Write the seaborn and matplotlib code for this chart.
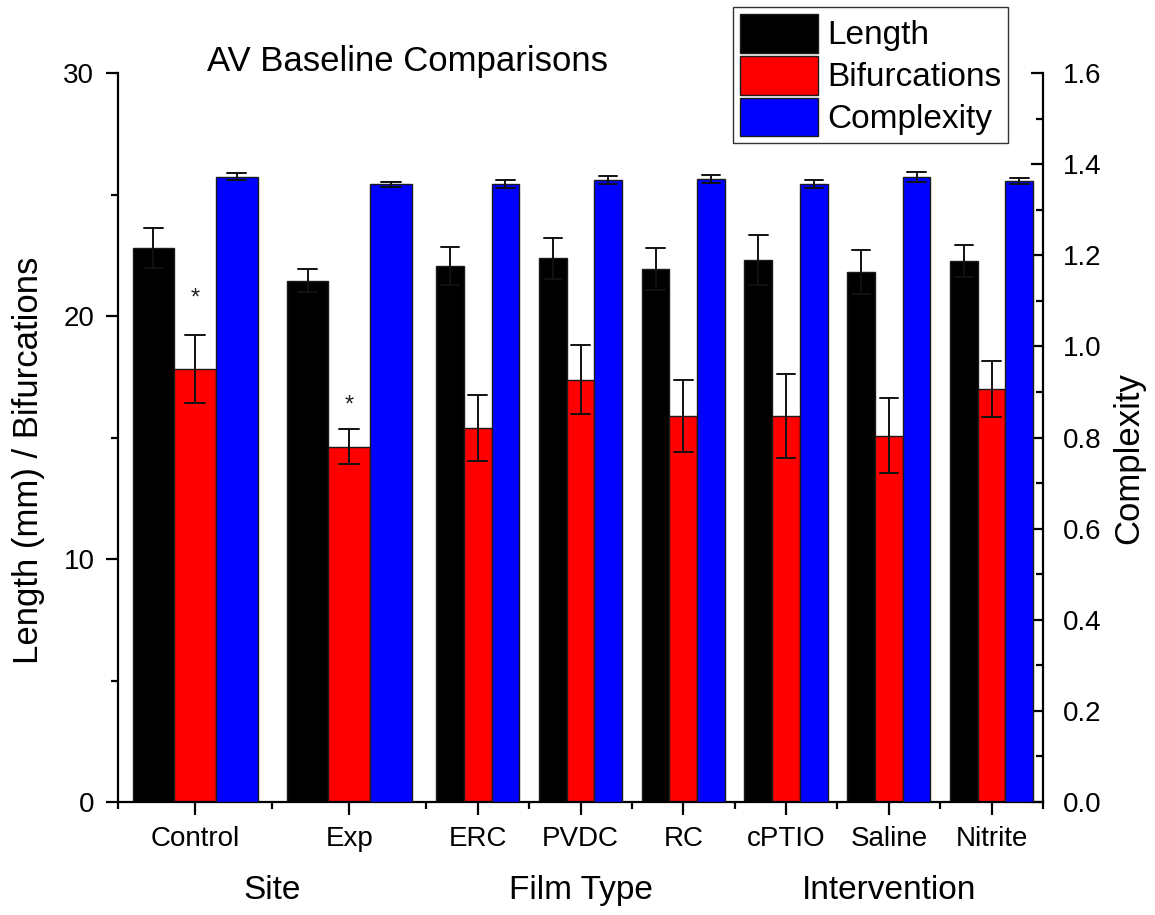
import numpy as np
import pandas as pd
import matplotlib
matplotlib.use("Agg")
import matplotlib.pyplot as plt
import seaborn as sns
from matplotlib.patches import Patch
from matplotlib.ticker import FixedLocator, MultipleLocator, FormatStrFormatter, NullFormatter

# ---------------- data ----------------
categories = ["Control", "Exp", "ERC", "PVDC", "RC", "cPTIO", "Saline", "Nitrite"]
category_group = ["Site", "Site", "Film Type", "Film Type", "Film Type",
                  "Intervention", "Intervention", "Intervention"]
group_names = ["Site", "Film Type", "Intervention"]
slot_widths = [1.5, 1.5, 1, 1, 1, 1, 1, 1]

length_mean = [22.80, 21.45, 22.05, 22.37, 21.95, 22.30, 21.80, 22.26]
length_err = [0.82, 0.48, 0.79, 0.84, 0.86, 1.03, 0.91, 0.65]
bif_mean = [17.83, 14.61, 15.39, 17.38, 15.89, 15.88, 15.07, 16.99]
bif_err = [1.40, 0.72, 1.36, 1.41, 1.48, 1.72, 1.55, 1.15]
cx_mean = [1.3725, 1.3558, 1.3565, 1.3653, 1.3680, 1.3558, 1.3718, 1.3623]
cx_err = [0.007, 0.005, 0.009, 0.009, 0.009, 0.009, 0.010, 0.007]

sig_categories = ["Control", "Exp"]
sig_heights = [20.7, 16.3]

series = ["Length", "Bifurcations", "Complexity"]
colors = {"Length": "#000000", "Bifurcations": "#FF0000", "Complexity": "#0000FF"}

# ---------------- layout of category slots ----------------
edges = np.concatenate([[0.0], np.cumsum(slot_widths)])
centers = (edges[:-1] + edges[1:]) / 2

rows = []
for i, cat in enumerate(categories):
    for s, m, e in (("Length", length_mean, length_err),
                    ("Bifurcations", bif_mean, bif_err),
                    ("Complexity", cx_mean, cx_err)):
        # two values mean-err / mean+err -> mean with full-range interval = +/- err
        for v in (m[i] - e[i], m[i] + e[i]):
            rows.append(dict(category=cat, group=category_group[i], x=centers[i],
                             series=s, value=v))
df = pd.DataFrame(rows)

sns.set_style("ticks")
plt.rcParams["font.family"] = ["Liberation Sans", "DejaVu Sans"]
plt.rcParams["axes.edgecolor"] = "black"
plt.rcParams["xtick.color"] = "black"
plt.rcParams["ytick.color"] = "black"
plt.rcParams["text.color"] = "black"
plt.rcParams["axes.labelcolor"] = "black"

W, H = 1155, 915
fig = plt.figure(figsize=(W / 100, H / 100), dpi=100)
ax = fig.add_axes([118 / W, 1 - 802 / H, 925 / W, 729 / H])
ax2 = ax.twinx()

for target, subset in ((ax, df[df.series != "Complexity"]),
                       (ax2, df[df.series == "Complexity"])):
    for wide, cap in ((True, 0.38), (False, 0.54)):
        part = subset[(subset.group == "Site") == wide]
        sns.barplot(data=part, x="x", y="value", hue="series", hue_order=series,
                    palette=colors, native_scale=True, width=0.81, dodge=True,
                    saturation=1, estimator="mean", errorbar=("pi", 100), capsize=cap,
                    err_kws={"color": "#111111", "linewidth": 1.4},
                    edgecolor="#1a1a1a", linewidth=1.0, legend=False, ax=target)

# significance stars
for cat, h in zip(sig_categories, sig_heights):
    i = categories.index(cat)
    ax.text(centers[i], h, "*", ha="center", va="center", fontsize=17, color="#222222")

# ---------------- axes ----------------
ax.set_xlim(edges[0], edges[-1])
ax2.set_xlim(edges[0], edges[-1])
ax.set_ylim(0, 30)
ax2.set_ylim(0, 1.6)

ax.xaxis.set_major_locator(FixedLocator(centers))
ax.set_xticklabels(categories)
ax.xaxis.set_minor_locator(FixedLocator(edges))
ax.xaxis.set_minor_formatter(NullFormatter())
ax.yaxis.set_major_locator(MultipleLocator(10))
ax.yaxis.set_minor_locator(MultipleLocator(5))
ax2.yaxis.set_major_locator(MultipleLocator(0.2))
ax2.yaxis.set_minor_locator(MultipleLocator(0.1))
ax2.yaxis.set_major_formatter(FormatStrFormatter("%.1f"))

ax.tick_params(axis="x", which="major", direction="out", length=9, width=1.6,
               pad=8, labelsize=20)
ax.tick_params(axis="x", which="minor", direction="out", length=5, width=1.6)
ax.tick_params(axis="y", which="major", direction="out", length=9, width=1.6,
               pad=8, labelsize=20)
ax.tick_params(axis="y", which="minor", direction="out", length=5, width=1.6)
ax2.tick_params(axis="y", which="major", direction="in", length=9, width=1.6,
                pad=14, labelsize=20)
ax2.tick_params(axis="y", which="minor", direction="in", length=5, width=1.6)

for a in (ax, ax2):
    a.spines["top"].set_visible(False)
    for sp in ("left", "right", "bottom"):
        a.spines[sp].set_linewidth(1.6)
        a.spines[sp].set_color("black")
    a.grid(False)
ax.spines["right"].set_visible(False)
ax2.spines["left"].set_visible(False)
ax2.spines["bottom"].set_visible(False)

ax.set_xlabel("")
ax.set_ylabel("Length (mm) / Bifurcations", fontsize=25)
ax.yaxis.set_label_coords(-0.079, 0.469)
ax2.set_xlabel("")
ax2.set_ylabel("Complexity", fontsize=25)
ax2.yaxis.set_label_coords(1.075, 0.472)

# group labels under category ticks
for g in group_names:
    idx = [i for i, cg in enumerate(category_group) if cg == g]
    gx = float(np.mean(centers[idx]))
    ax.text(gx, -0.122, g, transform=ax.get_xaxis_transform(),
            ha="center", va="center", fontsize=24)

fig.text(407 / W, 1 - 61 / H, "AV Baseline Comparisons", ha="center", va="center",
         fontsize=25)

handles = [Patch(facecolor=colors[s], edgecolor="#1a1a1a", linewidth=1.0) for s in series]
fig.legend(handles, series, loc="upper left", bbox_to_anchor=(733 / W, 1 - 7 / H),
           fontsize=24, handlelength=2.35, handleheight=1.42, labelspacing=0.09,
           handletextpad=0.28, borderpad=0.2, borderaxespad=0, frameon=True,
           fancybox=False, edgecolor="#333333", framealpha=1)

fig.savefig("out.png", dpi=100)
